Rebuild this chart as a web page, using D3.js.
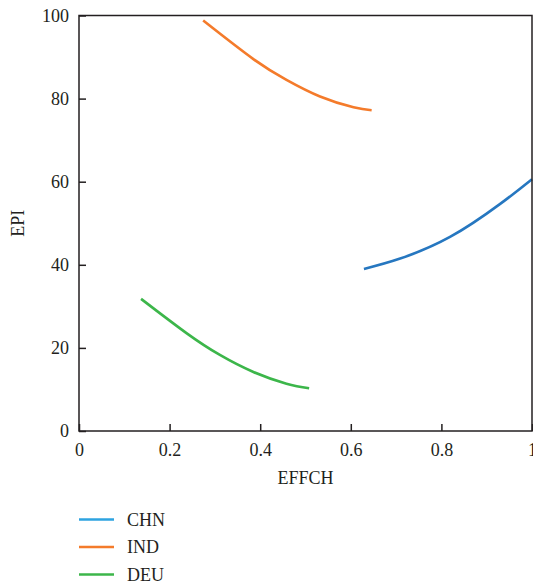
<!DOCTYPE html>
<html>
<head>
<meta charset="utf-8">
<style>
  body { margin: 0; background: #fff; }
  svg text { font-family: "Liberation Serif", "DejaVu Serif", serif; fill: #231f20; }
</style>
</head>
<body>
<svg width="533" height="584"></svg>
<script src="https://cdn.jsdelivr.net/npm/d3@7/dist/d3.min.js"></script>
<script>
// values
var countries = ["CHN", "IND", "DEU"];
var lineColors = ["#2677c0", "#f47b2b", "#3cb64a"];
var legendColors = ["#2ea3e0", "#f47b2b", "#3cb64a"];

var chnX = [0.629, 0.709, 0.819, 0.929, 1.0];
var chnY = [39.0, 41.5, 46.7, 54.6, 60.6];
var indX = [0.274, 0.385, 0.458, 0.532, 0.606, 0.646];
var indY = [98.8, 89.5, 84.5, 80.5, 77.9, 77.2];
var deuX = [0.137, 0.238, 0.311, 0.385, 0.458, 0.508];
var deuY = [31.8, 23.5, 18.3, 14.2, 11.4, 10.3];

var xTicks = [0, 0.2, 0.4, 0.6, 0.8, 1];
var yTicks = [0, 20, 40, 60, 80, 100];

var svg = d3.select("svg");
var plotL = 79, plotR = 532, plotT = 15.5, plotB = 431;

var x = d3.scaleLinear().domain([0, 1]).range([plotL, plotR]);
var y = d3.scaleLinear().domain([0, 100]).range([plotB, plotT]);

var series = [
  { name: countries[0], xs: chnX, ys: chnY },
  { name: countries[1], xs: indX, ys: indY },
  { name: countries[2], xs: deuX, ys: deuY }
];

var line = d3.line()
    .x(function(d) { return x(d[0]); })
    .y(function(d) { return y(d[1]); })
    .curve(d3.curveNatural);

svg.selectAll("path.series")
  .data(series)
  .enter().append("path")
    .attr("class", "series")
    .attr("fill", "none")
    .attr("stroke", function(d, i) { return lineColors[i]; })
    .attr("stroke-width", 2.6)
    .attr("d", function(d) { return line(d.xs.map(function(v, i) { return [v, d.ys[i]]; })); });

// box
svg.append("rect")
    .attr("x", plotL).attr("y", plotT)
    .attr("width", plotR - plotL).attr("height", plotB - plotT)
    .attr("fill", "none")
    .attr("stroke", "#231f20")
    .attr("stroke-width", 1.5);

var xAxis = svg.append("g")
    .attr("transform", "translate(0," + plotB + ")")
    .call(d3.axisBottom(x).tickValues(xTicks).tickSize(-7).tickPadding(12)
      .tickFormat(function(d) { return d === 0 || d === 1 ? d : d3.format(".1f")(d); }));
var yAxis = svg.append("g")
    .attr("transform", "translate(" + plotL + ",0)")
    .call(d3.axisLeft(y).tickValues(yTicks).tickSize(-7).tickPadding(10));

[xAxis, yAxis].forEach(function(a) {
  a.select(".domain").remove();
  a.selectAll(".tick line").attr("stroke", "#231f20").attr("stroke-width", 1.5);
  a.selectAll(".tick text")
    .attr("fill", "#231f20")
    .style("font-family", "'Liberation Serif', 'DejaVu Serif', serif")
    .style("font-size", "18px");
});

svg.append("text")
    .attr("x", (plotL + plotR) / 2)
    .attr("y", 484)
    .attr("text-anchor", "middle")
    .style("font-size", "18px")
    .text("EFFCH");

svg.append("text")
    .attr("transform", "translate(24," + (plotT + plotB) / 2 + ") rotate(-90)")
    .attr("text-anchor", "middle")
    .style("font-size", "18px")
    .text("EPI");

var legend = svg.append("g");
var ly = d3.scalePoint().domain(countries).range([519.5, 574.5]);
countries.forEach(function(c, i) {
  legend.append("line")
    .attr("x1", 79).attr("x2", 114)
    .attr("y1", ly(c)).attr("y2", ly(c))
    .attr("stroke", legendColors[i])
    .attr("stroke-width", 2.6);
  legend.append("text")
    .attr("x", 127)
    .attr("y", ly(c) + 6)
    .style("font-size", "18px")
    .text(c);
});
</script>
</body>
</html>
